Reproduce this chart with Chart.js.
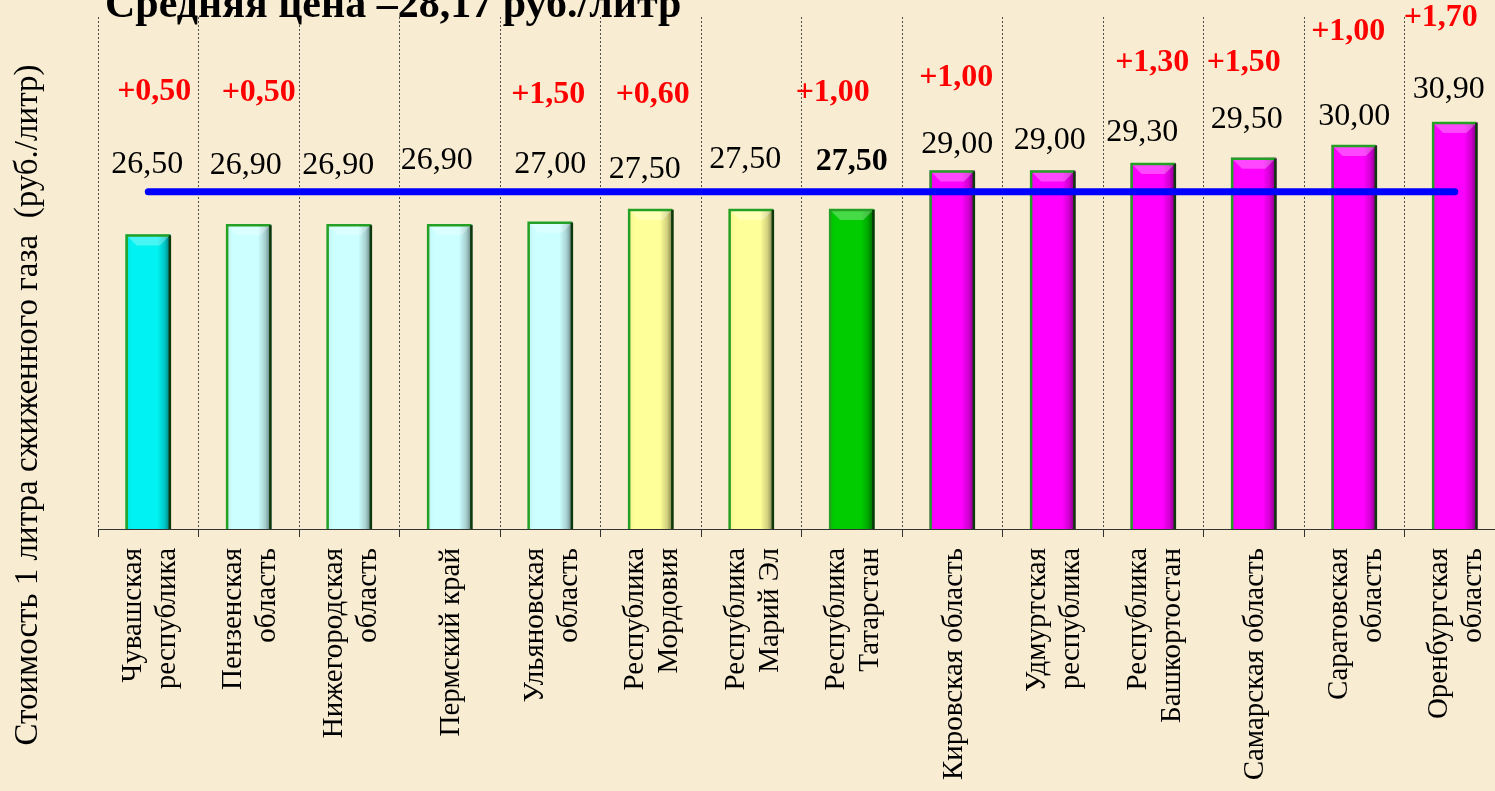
<!DOCTYPE html>
<html>
<head>
<meta charset="utf-8">
<script src="https://cdn.jsdelivr.net/npm/chart.js@4.4.0/dist/chart.umd.min.js"></script>
<style>
  html, body { margin: 0; padding: 0; overflow: hidden; background: #f8ecd2; }
  #wrap { position: absolute; left: 0; top: 0; width: 1510px; height: 791px; }
</style>
</head>
<body>
<div id="wrap"><canvas id="gasChart"></canvas></div>
<script>
const regions = [
  ["Чувашская", "республика"], ["Пензенская", "область"], ["Нижегородская", "область"],
  ["Пермский край"], ["Ульяновская", "область"], ["Республика", "Мордовия"],
  ["Республика", "Марий Эл"], ["Республика", "Татарстан"], ["Кировская область"],
  ["Удмуртская", "республика"], ["Республика", "Башкортостан"], ["Самарская область"],
  ["Саратовская", "область"], ["Оренбургская", "область"]
];
const prices = [26.50, 26.90, 26.90, 26.90, 27.00, 27.50, 27.50, 27.50, 29.00, 29.00, 29.30, 29.50, 30.00, 30.90];
const priceRise = ["+0,50", "+0,50", null, null, "+1,50", "+0,60", null, "+1,00", "+1,00", null, "+1,30", "+1,50", "+1,00", "+1,70"];
const averageLine = [28.17, 28.17, 28.17, 28.17, 28.17, 28.17, 28.17, 28.17, 28.17, 28.17, 28.17, 28.17, 28.17, 28.17];
const chartTitle = "Средняя цена –28,17 руб./литр";
const axisTitle = "Стоимость 1 литра сжиженного газа  (руб./литр)";

// оформление (не данные)
const barColors = ["#00f2f2", "#ccffff", "#ccffff", "#ccffff", "#ccffff", "#ffff99", "#ffff99", "#00cc00",
  "#ff00ff", "#ff00ff", "#ff00ff", "#ff00ff", "#ff00ff", "#ff00ff"];
const valueShiftX = [-1, -3, -11, -13, 0, -6, -6, 0, 5, -3, -11, -7, 0, -6];
const valueLift = [70, 59, 59, 64, 57, 39, 49, 47, 26, 30, 30, 38, 28, 32];
const riseShiftX = [6, 10, 0, 0, -2, 2, 0, -19, 4, 0, -1, -10, -6, -14];
const riseLift = [143, 132, 0, 0, 127, 114, 0, 116, 93, 0, 100, 95, 113, 104];
const boldValue = 7;

const serif = '"Times New Roman", "Liberation Serif", serif';

function fmt(v) {
  return v.toFixed(2).replace(".", ",");
}

const barDecor = {
  id: "barDecor",
  afterDatasetDraw(chart, args) {
    if (args.index !== 1) return;
    const ctx = chart.ctx;
    const bottom = chart.chartArea.bottom;
    args.meta.data.forEach(bar => {
      const { x, y, width } = bar.getProps(["x", "y", "width"], true);
      const l = x - width / 2, r = x + width / 2, h = bottom - y;
      const bev = 11;
      ctx.save();
      const g = ctx.createLinearGradient(l, 0, r, 0);
      g.addColorStop(0, "rgba(0,0,0,0.06)");
      g.addColorStop(0.15, "rgba(0,0,0,0)");
      g.addColorStop(0.7, "rgba(0,0,0,0)");
      g.addColorStop(0.86, "rgba(0,0,0,0.18)");
      g.addColorStop(1, "rgba(0,0,0,0.55)");
      ctx.fillStyle = g;
      ctx.fillRect(l, y, width, h);
      ctx.beginPath();
      ctx.moveTo(l, y);
      ctx.lineTo(r, y);
      ctx.lineTo(r - bev, y + bev);
      ctx.lineTo(l + bev, y + bev);
      ctx.closePath();
      ctx.fillStyle = "rgba(255,255,255,0.28)";
      ctx.fill();
      ctx.lineWidth = 2.5;
      ctx.strokeStyle = "#24a024";
      ctx.beginPath();
      ctx.moveTo(l + 1, bottom);
      ctx.lineTo(l + 1, y + 1);
      ctx.lineTo(r - 1, y + 1);
      ctx.stroke();
      ctx.strokeStyle = "#0c3a0c";
      ctx.beginPath();
      ctx.moveTo(r - 1, y + 1);
      ctx.lineTo(r - 1, bottom);
      ctx.stroke();
      ctx.restore();
    });
  }
};

const textLayer = {
  id: "textLayer",
  afterDraw(chart) {
    const ctx = chart.ctx;
    const bars = chart.getDatasetMeta(1).data;
    const xScale = chart.scales.x;
    ctx.save();
    ctx.textAlign = "center";
    ctx.textBaseline = "middle";
    bars.forEach((bar, i) => {
      ctx.fillStyle = "#000";
      ctx.font = (i === boldValue ? "bold " : "") + "32px " + serif;
      ctx.fillText(fmt(prices[i]), bar.x + valueShiftX[i], bar.y - valueLift[i]);
      if (priceRise[i]) {
        ctx.fillStyle = "#ff0000";
        ctx.font = "bold 32px " + serif;
        ctx.fillText(priceRise[i], bar.x + riseShiftX[i], bar.y - riseLift[i]);
      }
    });

    // подписи регионов
    const lh = 34;
    const labelTop = xScale.top + 19;
    ctx.fillStyle = "#000";
    ctx.font = "29px " + serif;
    ctx.textAlign = "right";
    ctx.textBaseline = "middle";
    regions.forEach((lines, i) => {
      const tx = xScale.getPixelForTick(i) + 2;
      lines.forEach((line, j) => {
        const lx = tx + (j - (lines.length - 1) / 2) * lh;
        ctx.save();
        ctx.translate(lx, labelTop);
        ctx.rotate(-Math.PI / 2);
        ctx.fillText(line, 0, 0);
        ctx.restore();
      });
    });

    ctx.textAlign = "left";
    ctx.textBaseline = "alphabetic";
    ctx.font = "bold 42px " + serif;
    ctx.fillText(chartTitle, 105, 17);
    ctx.translate(28, 405);
    ctx.rotate(-Math.PI / 2);
    ctx.textAlign = "center";
    ctx.textBaseline = "middle";
    ctx.font = "33px " + serif;
    ctx.fillText(axisTitle, 0, 0);
    ctx.restore();
  }
};

new Chart(document.getElementById("gasChart"), {
  data: {
    labels: regions,
    datasets: [
      {
        type: "line",
        label: "Средняя цена",
        data: averageLine,
        borderColor: "#0000ff",
        borderWidth: 7,
        borderCapStyle: "round",
        pointRadius: 0
      },
      {
        type: "bar",
        label: "Стоимость",
        data: prices,
        backgroundColor: barColors,
        borderWidth: 0,
        barPercentage: 0.45,
        categoryPercentage: 1
      }
    ]
  },
  options: {
    responsive: true,
    maintainAspectRatio: false,
    animation: false,
    layout: { padding: { left: 98, top: 17, right: 5, bottom: 0 } },
    plugins: {
      legend: { display: false },
      tooltip: { enabled: false }
    },
    scales: {
      x: {
        afterFit(scale) {
          scale.height = 262;
          scale.paddingLeft = 0;
          scale.paddingRight = 0;
        },
        ticks: { display: false, autoSkip: false },
        grid: {
          color: "rgba(50,50,50,0.85)",
          lineWidth: 1,
          tickLength: 8,
          tickColor: "#333",
          tickBorderDash: []
        },
        border: { display: true, color: "#333", width: 1, dash: [2, 2] }
      },
      y: {
        display: false,
        min: 15,
        max: 35
      }
    }
  },
  plugins: [barDecor, textLayer]
});
</script>
</body>
</html>
